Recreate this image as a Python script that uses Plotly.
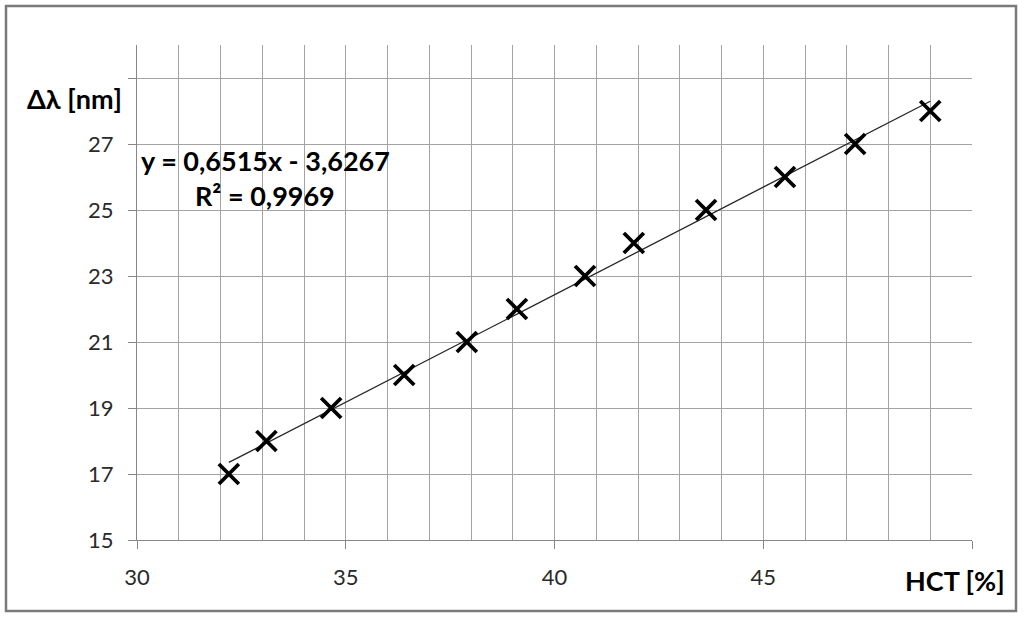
import plotly.graph_objects as go

# measured HCT [%] vs wavelength shift [nm]
hct = [32.2, 33.1, 34.65, 36.4, 37.9, 39.1, 40.73, 41.9, 43.63, 45.52, 47.2, 49.0]
delta_lambda = [17, 18, 19, 20, 21, 22, 23, 24, 25, 26, 27, 28]

# linear trendline as reported on the chart
slope = 0.6515
intercept = -3.6267
eq_text = "y = 0,6515x - 3,6267"
r2_text = "R² = 0,9969"

x_ticks = [30, 35, 40, 45, 50]
x_labels = ["30", "35", "40", "45", ""]
y_ticks = [15, 17, 19, 21, 23, 25, 27, 29]
y_labels = ["15", "17", "19", "21", "23", "25", "27", ""]

FONT = "Lato"
W, H = 1024, 619
L, R, T, B = 137, 52, 45, 79
pw, ph = W - L - R, H - T - B


def px(x):
    return (x - L) / pw


def py(y):
    return (H - B - y) / ph


def label(text, x, y):
    return dict(text="<b>" + text + "</b>", xref="paper", yref="paper",
                x=px(x), y=py(y), xanchor="center", yanchor="middle",
                showarrow=False, font=dict(size=27, color="black"))


trend_x = [min(hct), max(hct)]
trend_y = [slope * v + intercept for v in trend_x]

fig = go.Figure()
fig.add_trace(go.Scatter(x=trend_x, y=trend_y, mode="lines",
                         line=dict(color="#262626", width=1.3), hoverinfo="skip"))
fig.add_trace(go.Scatter(x=hct, y=delta_lambda, mode="markers",
                         marker=dict(symbol="x-thin", size=20, line=dict(color="black", width=3.8))))

axis_style = dict(
    ticks="outside", ticklen=8, tickcolor="#868686",
    showline=True, linecolor="#868686", linewidth=1.3,
    showgrid=True, gridcolor="#a3a3a3", gridwidth=1,
    zeroline=False, fixedrange=True,
)

fig.update_layout(
    width=W, height=H,
    margin=dict(l=L, r=R, t=T, b=B),
    paper_bgcolor="white", plot_bgcolor="white",
    showlegend=False,
    font=dict(family=FONT, size=22, color="#2a2a2a"),
    xaxis=dict(
        range=[30, 50], tickvals=x_ticks, ticktext=x_labels, ticklabelstandoff=9,
        minor=dict(dtick=1, tick0=30, showgrid=True, gridcolor="#a3a3a3", gridwidth=1),
        **axis_style,
    ),
    yaxis=dict(range=[15, 30], tickvals=y_ticks, ticktext=y_labels,
               ticklabelstandoff=10, **axis_style),
    shapes=[dict(type="rect", xref="paper", yref="paper",
                 x0=px(6), x1=px(1016), y0=py(611), y1=py(6),
                 line=dict(color="#7a7a7a", width=2.5))],
    annotations=[
        label("Δλ [nm]", 74, 98),
        label("HCT [%]", 955, 580),
        label(eq_text, 265, 160),
        label(r2_text, 265, 196),
    ],
)

# drop the default page margin so the chart sits at the window origin
fig.write_html("out.html", config={"displayModeBar": False},
               post_script="document.body.style.margin='0';")
